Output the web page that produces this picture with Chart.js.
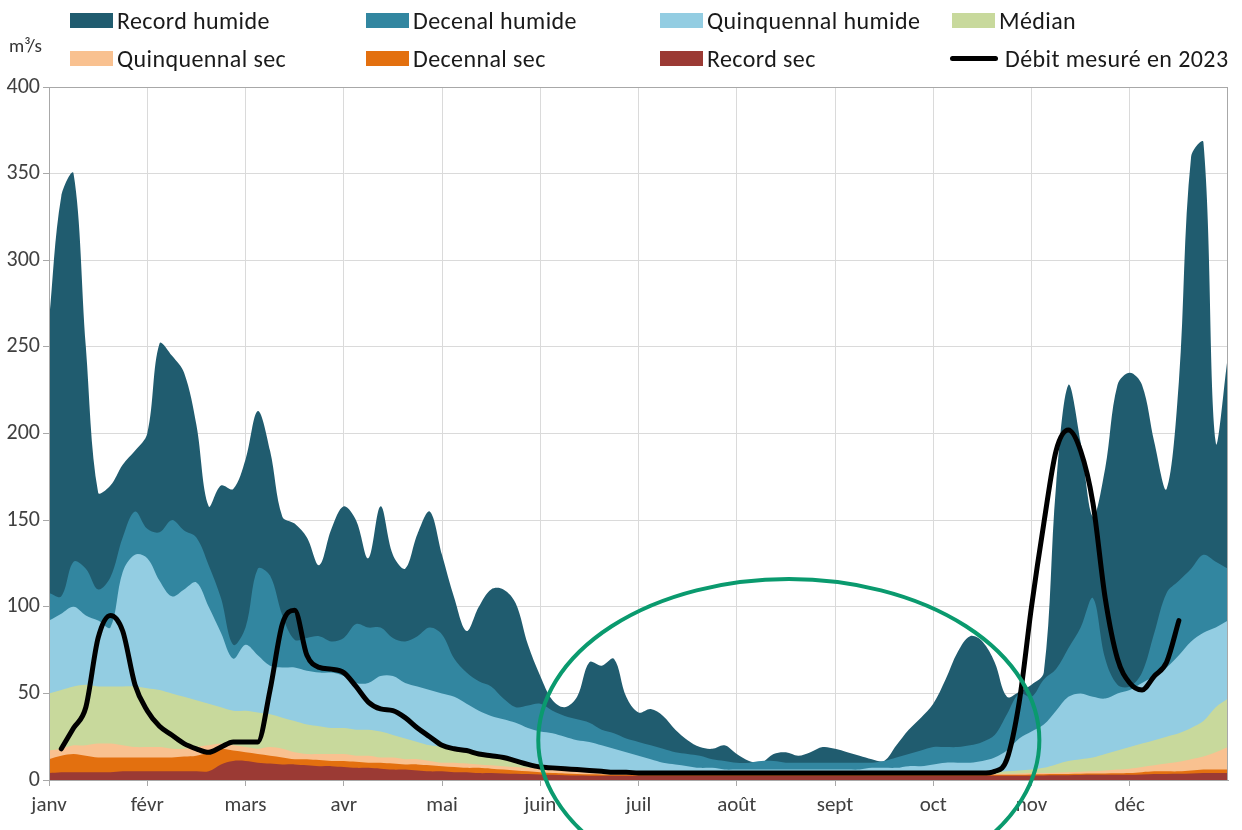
<!DOCTYPE html>
<html>
<head>
<meta charset="utf-8">
<title>Débits 2023</title>
<script src="https://cdn.jsdelivr.net/npm/chart.js@4.4.0/dist/chart.umd.min.js"></script>
<style>
  html, body { margin: 0; padding: 0; background: #fff; }
  #wrap { position: relative; width: 1242px; height: 830px; overflow: hidden; font-family: Carlito, Lato, sans-serif; }
  #chart { position: absolute; left: 0; top: 0; }
  .leg { position: absolute; display: flex; align-items: center; height: 28px; font-size: 24px; letter-spacing: 0.4px; color: #1a1a1a; white-space: nowrap; }
  .leg .sw { width: 43px; height: 15px; margin-right: 4px; }
  .leg .ln { width: 48px; height: 5px; border-radius: 3px; background: #000; margin-right: 7px; }
  #unit { position: absolute; left: 9px; top: 34px; font-size: 19px; color: #333; }
</style>
</head>
<body>
<div id="wrap">
  <canvas id="chart" width="1242" height="830"></canvas>
  <div id="legend"></div>
  <div id="unit">m³/s</div>
</div>
<script>
// month ticks (x axis is in months from 1 Jan)
const monthLabels = ['janv', 'févr', 'mars', 'avr', 'mai', 'juin', 'juil', 'août', 'sept', 'oct', 'nov', 'déc'];
const STEP = 1 / 8; // one sample every 1/8 month

const recordHumide = [265, 337, 350, 250, 166, 170, 182, 190, 200, 252,
  245, 235, 205, 158, 170, 168, 185, 213, 190, 152,
  148, 140, 124, 145, 158, 150, 128, 158, 130, 122,
  142, 155, 130, 105, 86, 100, 110, 110, 102, 78,
  60, 46, 42, 48, 68, 66, 70, 48, 39, 41,
  37, 29, 23, 19, 18, 20, 15, 11, 10, 15,
  16, 14, 16, 19, 18, 16, 14, 12, 11, 20,
  29, 36, 44, 58, 74, 83, 80, 68, 48, 51,
  55, 62, 170, 228, 195, 152, 180, 228, 235, 228,
  195, 168, 230, 360, 368, 195, 245];
const decenalHumide = [108, 106, 126, 122, 110, 117, 140, 155, 145, 143,
  150, 144, 140, 124, 105, 78, 88, 122, 118, 95,
  81, 82, 83, 80, 82, 90, 88, 88, 82, 80,
  83, 88, 84, 70, 62, 57, 54, 47, 42, 43,
  44, 40, 37, 35, 33, 29, 27, 24, 22, 20,
  18, 16, 15, 14, 12, 11, 10, 10, 11, 11,
  10, 10, 10, 10, 10, 10, 10, 10, 11, 13,
  15, 17, 19, 19, 19, 20, 22, 26, 38, 50,
  48, 58, 64, 76, 88, 105, 70, 55, 54, 62,
  85, 108, 115, 122, 130, 126, 122];
const quinquennalHumide = [92, 96, 100, 95, 92, 88, 120, 130, 128, 115,
  106, 110, 114, 100, 85, 70, 78, 72, 66, 65,
  65, 63, 62, 62, 60, 56, 56, 60, 60, 56,
  54, 52, 50, 48, 44, 40, 37, 35, 33, 30,
  28, 27, 25, 23, 22, 20, 18, 16, 14, 12,
  10, 9, 8, 7, 7, 6, 6, 6, 6, 6,
  6, 6, 6, 6, 6, 6, 6, 7, 7, 7,
  8, 8, 9, 10, 10, 10, 11, 13, 17, 24,
  28, 32, 40, 48, 50, 48, 47, 50, 52, 56,
  60, 65, 72, 80, 85, 88, 92];
const median = [50, 52, 54, 55, 54, 54, 54, 54, 53, 52,
  50, 48, 46, 44, 42, 40, 40, 39, 38, 36,
  34, 32, 31, 30, 30, 29, 29, 28, 26, 24,
  22, 20, 19, 17, 16, 14, 13, 12, 11, 10,
  9, 8, 7, 6.5, 6, 5.5, 5, 5, 4.5, 4.5,
  4, 4, 4, 4, 4, 4, 4, 4, 4, 4,
  4, 4, 4, 4, 4, 4, 4, 4, 4, 4,
  4, 4, 4, 4, 4, 4, 4, 4.5, 5, 5.5,
  6, 7, 9, 11, 12, 13, 15, 17, 19, 21,
  23, 25, 27, 30, 34, 42, 47];
const quinquennalSec = [17, 18, 20, 20, 21, 21, 20, 19, 19, 19,
  18, 18, 19, 20, 21, 20, 19, 18, 19, 18,
  16, 15, 15, 15, 15, 14, 14, 13, 13, 12,
  12, 11, 10, 10, 9.5, 9, 8.5, 8, 7.5, 7,
  6.5, 6, 5.5, 5, 4.5, 4.2, 4, 3.8, 3.6, 3.5,
  3.5, 3.5, 3.5, 3.5, 3.5, 3.5, 3.5, 3.5, 3.5, 3.5,
  3.5, 3.5, 3.5, 3.5, 3.5, 3.5, 3.5, 3.5, 3.5, 3.5,
  3.5, 3.5, 3.5, 3.5, 3.5, 3.5, 3.5, 3.5, 3.6, 3.8,
  4, 4, 4.2, 4.5, 4.8, 5, 5.5, 6, 6.5, 7.5,
  8.5, 9.5, 10.5, 12, 13.5, 16, 19];
const decennalSec = [12, 14, 15, 14, 13, 13, 13, 13, 13, 13,
  13, 13.5, 14, 16, 18, 17, 16, 15, 14, 13,
  12, 12, 11.5, 11, 11, 10.5, 10, 10, 9.5, 9,
  9, 8.5, 8, 7.5, 7, 7, 6.5, 6, 5.5, 5,
  4.5, 4, 3.8, 3.5, 3.3, 3.2, 3, 3, 3, 3,
  3, 3, 3, 3, 3, 3, 3, 3, 3, 3,
  3, 3, 3, 3, 3, 3, 3, 3, 3, 3,
  3, 3, 3, 3, 3, 3, 3, 3, 3, 3,
  3.2, 3.3, 3.4, 3.5, 3.6, 3.7, 3.8, 3.9, 4, 4.5,
  5, 5, 5, 5.5, 6, 6, 6];
const recordSec = [4, 4.5, 4.5, 4.5, 4.5, 4.5, 5, 5, 5, 5,
  5, 5, 5, 5, 9, 11, 11, 10, 9.5, 9,
  9, 8.5, 8, 8, 7.5, 7, 7, 6.5, 6, 6,
  5.5, 5, 5, 4.5, 4.5, 4, 4, 3.8, 3.6, 3.4,
  3.2, 3, 2.8, 2.6, 2.5, 2.5, 2.5, 2.5, 2.5, 2.5,
  2.5, 2.5, 2.5, 2.5, 2.5, 2.5, 2.5, 2.5, 2.5, 2.5,
  2.5, 2.5, 2.5, 2.5, 2.5, 2.5, 2.5, 2.5, 2.5, 2.5,
  2.5, 2.5, 2.5, 2.5, 2.5, 2.5, 2.5, 2.5, 2.5, 2.5,
  2.5, 2.6, 2.7, 2.8, 2.9, 3, 3, 3, 3, 3.2,
  3.4, 3.5, 3.6, 3.8, 4, 4, 4];
const debit2023 = [null, 18, 30, 42, 82, 95, 86, 55, 40, 31,
  26, 21, 18, 16, 19, 22, 22, 22, 52, 90,
  98, 72, 65, 64, 62, 54, 45, 41, 40, 36,
  30, 25, 20, 18, 17, 15, 14, 13, 11, 9,
  7.5, 7, 6.5, 6, 5.5, 5, 4.5, 4.5, 4, 4,
  4, 4, 4, 4, 4, 4, 4, 4, 4, 4,
  4, 4, 4, 4, 4, 4, 4, 4, 4, 4,
  4, 4, 4, 4, 4, 4, 4, 5, 12, 45,
  100, 148, 190, 202, 190, 160, 105, 70, 56, 52,
  60, 68, 92, null, null, null, null];

// highlighted low-flow period (data units: months / m3/s)
const lowFlowZone = { x: 7.53, y: 23, rx: 2.55, ry: 93 };

const seriesNames = ['Record humide', 'Decenal humide', 'Quinquennal humide', 'Médian',
  'Quinquennal sec', 'Decennal sec', 'Record sec', 'Débit mesuré en 2023'];
const colors = {
  recordHumide: '#205c6f',
  decenalHumide: '#3286a0',
  quinquennalHumide: '#93cde2',
  median: '#c8d99c',
  quinquennalSec: '#f9c190',
  decennalSec: '#e3700f',
  recordSec: '#9b3a34',
  debit: '#000000',
  zone: '#0a9a6e'
};

const FONT = 'Carlito, Lato, sans-serif';

function toPoints(values) {
  return values.map((v, i) => ({ x: i * STEP, y: v }));
}

function area(label, values, color) {
  return {
    label: label,
    data: toPoints(values),
    backgroundColor: color,
    borderColor: color,
    borderWidth: 0,
    fill: 'origin',
    pointRadius: 0,
    tension: 0.35
  };
}

// dataset 0 is painted last, so the measured line sits on top
const datasets = [
  {
    label: seriesNames[7],
    data: toPoints(debit2023),
    borderColor: colors.debit,
    borderWidth: 5,
    borderCapStyle: 'round',
    borderJoinStyle: 'round',
    fill: false,
    pointRadius: 0,
    spanGaps: false,
    cubicInterpolationMode: 'monotone'
  },
  area(seriesNames[6], recordSec, colors.recordSec),
  area(seriesNames[5], decennalSec, colors.decennalSec),
  area(seriesNames[4], quinquennalSec, colors.quinquennalSec),
  area(seriesNames[3], median, colors.median),
  area(seriesNames[2], quinquennalHumide, colors.quinquennalHumide),
  area(seriesNames[1], decenalHumide, colors.decenalHumide),
  area(seriesNames[0], recordHumide, colors.recordHumide)
];

const plotFrame = {
  id: 'plotFrame',
  afterDatasetsDraw(chart) {
    const { ctx, chartArea: a } = chart;
    ctx.save();
    ctx.strokeStyle = '#a8a8a8';
    ctx.lineWidth = 1;
    ctx.strokeRect(a.left + 0.5, a.top + 0.5, a.right - a.left - 1, a.bottom - a.top);
    ctx.restore();
  }
};

const zoneEllipse = {
  id: 'zoneEllipse',
  afterDraw(chart) {
    const { ctx, scales: { x, y } } = chart;
    const cx = x.getPixelForValue(lowFlowZone.x);
    const cy = y.getPixelForValue(lowFlowZone.y);
    const rx = x.getPixelForValue(lowFlowZone.x + lowFlowZone.rx) - cx;
    const ry = cy - y.getPixelForValue(lowFlowZone.y + lowFlowZone.ry);
    ctx.save();
    ctx.strokeStyle = colors.zone;
    ctx.lineWidth = 4;
    ctx.beginPath();
    ctx.ellipse(cx, cy, rx, ry, 0, 0, Math.PI * 2);
    ctx.stroke();
    ctx.restore();
  }
};

new Chart(document.getElementById('chart'), {
  type: 'line',
  data: { datasets: datasets },
  options: {
    responsive: false,
    animation: false,
    events: [],
    layout: { padding: { top: 87, right: 14, left: 0, bottom: 0 } },
    plugins: {
      legend: { display: false },
      tooltip: { enabled: false }
    },
    scales: {
      x: {
        type: 'linear',
        min: 0,
        max: 12,
        afterFit: (s) => { s.height = 50; },
        ticks: {
          stepSize: 1,
          autoSkip: false,
          maxRotation: 0,
          padding: 7,
          color: '#404040',
          font: { family: FONT, size: 21 },
          callback: (v) => monthLabels[v]
        },
        grid: { color: '#dadada', tickLength: 6, tickColor: '#a8a8a8' },
        border: { color: '#a8a8a8' }
      },
      y: {
        min: 0,
        max: 400,
        afterFit: (s) => { s.width = 49; },
        ticks: {
          stepSize: 50,
          padding: 3,
          color: '#404040',
          font: { family: FONT, size: 22 }
        },
        grid: { color: '#dadada', tickLength: 6, tickColor: '#a8a8a8' },
        border: { color: '#a8a8a8' }
      }
    }
  },
  plugins: [plotFrame, zoneEllipse]
});

// legend laid out like the original two-row key
const legendItems = [
  { name: seriesNames[0], color: colors.recordHumide, left: 70, top: 20 },
  { name: seriesNames[1], color: colors.decenalHumide, left: 366, top: 20 },
  { name: seriesNames[2], color: colors.quinquennalHumide, left: 660, top: 20 },
  { name: seriesNames[3], color: colors.median, left: 952, top: 20 },
  { name: seriesNames[4], color: colors.quinquennalSec, left: 70, top: 58 },
  { name: seriesNames[5], color: colors.decennalSec, left: 366, top: 58 },
  { name: seriesNames[6], color: colors.recordSec, left: 660, top: 58 },
  { name: seriesNames[7], color: null, left: 950, top: 58 }
];
const legendBox = document.getElementById('legend');
legendItems.forEach(item => {
  const el = document.createElement('div');
  el.className = 'leg';
  el.style.left = item.left + 'px';
  el.style.top = (item.top - 14) + 'px';
  const mark = document.createElement('span');
  if (item.color) {
    mark.className = 'sw';
    mark.style.background = item.color;
  } else {
    mark.className = 'ln';
  }
  const txt = document.createElement('span');
  txt.textContent = item.name;
  el.appendChild(mark);
  el.appendChild(txt);
  legendBox.appendChild(el);
});
</script>
</body>
</html>
